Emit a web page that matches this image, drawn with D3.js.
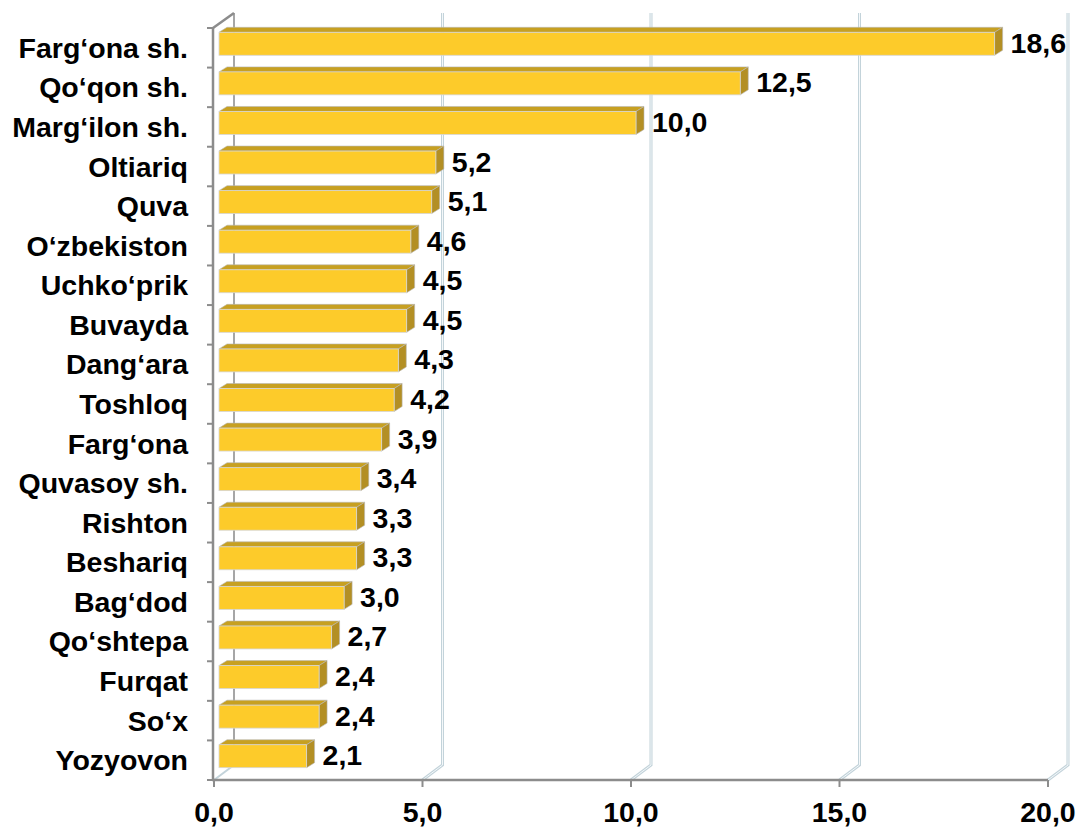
<!DOCTYPE html>
<html>
<head>
<meta charset="utf-8">
<script src="https://cdn.jsdelivr.net/npm/d3@7"></script>
<style>
  html, body { margin: 0; padding: 0; background: #ffffff; }
  svg { display: block; }
  text { font-family: "Liberation Sans", Arial, sans-serif; font-weight: bold; fill: #000; }
</style>
</head>
<body>
<svg id="chart" width="1078" height="829"></svg>
<script>
const categories = ["Farg‘ona sh.", "Qo‘qon sh.", "Marg‘ilon sh.", "Oltiariq", "Quva", "O‘zbekiston",
  "Uchko‘prik", "Buvayda", "Dang‘ara", "Toshloq", "Farg‘ona", "Quvasoy sh.", "Rishton",
  "Beshariq", "Bag‘dod", "Qo‘shtepa", "Furqat", "So‘x", "Yozyovon"];
const values = [18.6, 12.5, 10.0, 5.2, 5.1, 4.6, 4.5, 4.5, 4.3, 4.2, 3.9, 3.4, 3.3, 3.3, 3.0, 2.7, 2.4, 2.4, 2.1];
const tickValues = [0, 5, 10, 15, 20];
const tickLabels = ["0,0", "5,0", "10,0", "15,0", "20,0"];

(function () {
const svg = d3.select("#chart");
const fmt = v => v.toFixed(1).replace(".", ",");
const fontSize = 28.5;

const x = d3.scaleLinear().domain([0, 20]).range([214, 1048]);
const y = d3.scaleBand().domain(categories).range([28, 780]).paddingInner(0.42).paddingOuter(0.21);
const plotTop = 28, plotBottom = 780;
const wall = { dx: 20, dy: -15 };
const barFront = { dx: 5, dy: -4 };
const barDepth = { dx: 8, dy: -5 };

const grid = svg.append("g");
tickValues.filter(v => v > 0).forEach(v => {
  const bx = x(v) + wall.dx;
  const d = `M${bx},${plotTop + wall.dy} L${bx},${plotBottom + wall.dy} L${x(v)},${plotBottom}`;
  grid.append("path").attr("d", d)
    .attr("fill", "none").attr("stroke", "#c3d3da").attr("stroke-width", 3);
  grid.append("path").attr("d", d)
    .attr("fill", "none").attr("stroke", "#f4f8fa").attr("stroke-width", 1);
});
grid.append("path")
  .attr("d", `M${x(0) + wall.dx},${plotBottom + wall.dy} L${x(0)},${plotBottom}`)
  .attr("fill", "none").attr("stroke", "#c3d3da").attr("stroke-width", 2);
grid.append("line")
  .attr("x1", x(0) + wall.dx).attr("x2", x(0) + wall.dx)
  .attr("y1", plotTop + wall.dy).attr("y2", plotBottom + wall.dy)
  .attr("stroke", "#a6a6a6").attr("stroke-width", 2);
grid.append("line")
  .attr("x1", x(0) - 1).attr("y1", plotTop)
  .attr("x2", x(0) + wall.dx).attr("y2", plotTop + wall.dy)
  .attr("stroke", "#8c8c8c").attr("stroke-width", 2.5);

const bars = svg.append("g");
categories.forEach((c, i) => {
  const v = values[i];
  const x0 = x(0) + barFront.dx, x1 = x(v) + barFront.dx;
  const y0 = y(c) + barFront.dy, y1 = y0 + y.bandwidth();
  const ddx = barDepth.dx, ddy = barDepth.dy;
  bars.append("path")
    .attr("d", `M${x0},${y0} L${x0 + ddx},${y0 + ddy} L${x1 + ddx},${y0 + ddy} L${x1},${y0} Z`)
    .attr("fill", "#c7a021").attr("stroke", "#b8b8b8").attr("stroke-width", 0.6);
  bars.append("path")
    .attr("d", `M${x1},${y0} L${x1 + ddx},${y0 + ddy} L${x1 + ddx},${y1 + ddy} L${x1},${y1} Z`)
    .attr("fill", "#b38f24").attr("stroke", "#b8b8b8").attr("stroke-width", 0.6);
  bars.append("rect")
    .attr("x", x0).attr("y", y0).attr("width", x1 - x0).attr("height", y1 - y0)
    .attr("fill", "#fdcb2a").attr("stroke", "#d6d6d6").attr("stroke-width", 0.8);
  svg.append("text")
    .attr("x", x1 + ddx + 8).attr("y", (y0 + y1) / 2 - 1)
    .attr("dominant-baseline", "central")
    .attr("font-size", fontSize)
    .text(fmt(v));
});

svg.append("line").attr("x1", x(0) - 1).attr("x2", x(0) - 1).attr("y1", plotTop).attr("y2", plotBottom)
  .attr("stroke", "#8c8c8c").attr("stroke-width", 2.5);
const step = y.step();
d3.range(categories.length + 1).forEach(k => {
  const ty = plotTop + k * step;
  svg.append("line").attr("x1", x(0) - 7).attr("x2", x(0) - 1).attr("y1", ty).attr("y2", ty)
    .attr("stroke", "#8c8c8c").attr("stroke-width", 2);
});
categories.forEach(c => {
  svg.append("text")
    .attr("x", 188).attr("y", y(c) + y.bandwidth() / 2)
    .attr("dominant-baseline", "central")
    .attr("text-anchor", "end")
    .attr("font-size", fontSize)
    .text(c);
});

svg.append("line").attr("x1", x(0) - 2).attr("x2", x(20)).attr("y1", plotBottom).attr("y2", plotBottom)
  .attr("stroke", "#8c8c8c").attr("stroke-width", 2.5);
tickValues.forEach((v, i) => {
  svg.append("line").attr("x1", x(v)).attr("x2", x(v)).attr("y1", plotBottom).attr("y2", plotBottom + 7)
    .attr("stroke", "#8c8c8c").attr("stroke-width", 2);
  svg.append("text")
    .attr("x", x(v)).attr("y", 822)
    .attr("text-anchor", "middle")
    .attr("font-size", fontSize)
    .text(tickLabels[i]);
});
})();
</script>
</body>
</html>
